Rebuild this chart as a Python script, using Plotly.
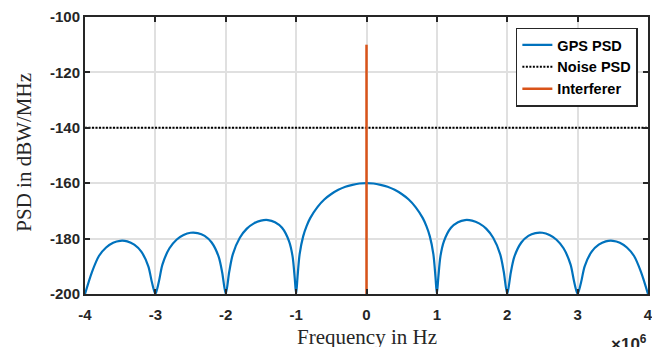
import plotly.graph_objects as go

# Frequency in units of 10^6 Hz
freq = [-4.0, -3.9, -3.8, -3.7, -3.6, -3.5, -3.4, -3.3, -3.2, -3.1, -3.05, -3.0,
        -2.95, -2.9, -2.8, -2.7, -2.6, -2.5, -2.4, -2.3, -2.2, -2.1, -2.05, -2.0,
        -1.95, -1.9, -1.8, -1.7, -1.6, -1.5, -1.4, -1.3, -1.2, -1.1, -1.05, -1.02, -1.0,
        -0.98, -0.95, -0.9, -0.85, -0.8, -0.7, -0.6, -0.5, -0.4, -0.3, -0.2, -0.1,
        0.0,
        0.1, 0.2, 0.3, 0.4, 0.5, 0.6, 0.7, 0.8, 0.85, 0.9, 0.95, 0.98,
        1.0, 1.02, 1.05, 1.1, 1.2, 1.3, 1.4, 1.5, 1.6, 1.7, 1.8, 1.9, 1.95,
        2.0, 2.05, 2.1, 2.2, 2.3, 2.4, 2.5, 2.6, 2.7, 2.8, 2.9, 2.95,
        3.0, 3.05, 3.1, 3.2, 3.3, 3.4, 3.5, 3.6, 3.7, 3.8, 3.9, 4.0]
gps_psd = [-200.0, -192.0, -186.2, -183.2, -181.5, -180.8, -181.0, -182.2, -184.7, -190.0, -195.7, -200.0,
           -195.5, -189.4, -183.5, -180.4, -178.7, -177.9, -178.0, -179.0, -181.4, -186.6, -192.3, -200.0,
           -191.9, -185.7, -179.7, -176.4, -174.5, -173.5, -173.3, -174.1, -176.1, -181.0, -186.5, -194.2, -200.0,
           -193.8, -185.6, -179.2, -175.4, -172.6, -168.7, -165.9, -163.9, -162.4, -161.3, -160.6, -160.1,
           -160.0,
           -160.1, -160.6, -161.3, -162.4, -163.9, -165.9, -168.7, -172.6, -175.4, -179.2, -185.6, -193.8,
           -200.0, -194.2, -186.5, -181.0, -176.1, -174.1, -173.3, -173.5, -174.5, -176.4, -179.7, -185.7, -191.9,
           -200.0, -192.3, -186.6, -181.4, -179.0, -178.0, -177.9, -178.7, -180.4, -183.5, -189.4, -195.5,
           -200.0, -195.7, -190.0, -184.7, -182.2, -181.0, -180.8, -181.5, -183.2, -186.2, -192.0, -200.0]

noise_freq = [-4.0, 4.0]
noise_psd = [-140.0, -140.0]

interf_freq = [0.0, 0.0]
interf_psd = [-200.0, -110.0]

x_ticks = [-4, -3, -2, -1, 0, 1, 2, 3, 4]
x_ticklabels = ["-4", "-3", "-2", "-1", "0", "1", "2", "3", "4"]
y_ticks = [-200, -180, -160, -140, -120, -100]
y_ticklabels = ["-200", "-180", "-160", "-140", "-120", "-100"]

AX = "#262626"
GRID = "#e0e0e0"
SANS = "Liberation Sans, Arial, Helvetica"
SERIF = "Liberation Serif, Times New Roman, serif"

fig = go.Figure()
fig.add_trace(go.Scatter(x=freq, y=gps_psd, mode="lines", name="GPS PSD",
                         line=dict(color="#0072BD", width=2.2, shape="spline", smoothing=0.8)))
fig.add_trace(go.Scatter(x=noise_freq, y=noise_psd, mode="lines", name="Noise PSD",
                         line=dict(color="black", width=2, dash="2px,1.5px")))
fig.add_trace(go.Scatter(x=interf_freq, y=interf_psd, mode="lines", name="Interferer",
                         line=dict(color="#D95319", width=2.5)))

tickfont = dict(family=SANS, size=15, color=AX, weight="bold")
fig.update_layout(
    width=652, height=339,
    margin=dict(l=77, r=12, t=9, b=53, autoexpand=False),
    paper_bgcolor="white", plot_bgcolor="white",
    showlegend=True,
    legend=dict(x=0.982, y=0.962, xanchor="right", yanchor="top",
                bgcolor="white", bordercolor="#262626", borderwidth=1.5,
                font=dict(family=SANS, size=14.5, color="black", weight="bold"),
                itemwidth=30, tracegroupgap=0),
    xaxis=dict(range=[-4, 4], tickvals=x_ticks, ticktext=x_ticklabels, automargin=False,
               showgrid=True, gridcolor=GRID, gridwidth=1.5, zeroline=False,
               showline=True, linecolor=AX, linewidth=2, mirror="ticks",
               ticks="inside", ticklen=5, tickwidth=2, tickcolor=AX,
               ticklabelstandoff=6, tickfont=tickfont),
    yaxis=dict(range=[-200, -100], tickvals=y_ticks, ticktext=y_ticklabels, automargin=False,
               showgrid=True, gridcolor=GRID, gridwidth=1.5, zeroline=False,
               showline=True, linecolor=AX, linewidth=2, mirror="ticks",
               ticks="inside", ticklen=5, tickwidth=2, tickcolor=AX,
               tickfont=tickfont),
)
fig.add_annotation(xref="paper", yref="paper", x=0.5009, y=-0.157, xanchor="center", yanchor="middle",
                   showarrow=False, text="Frequency in Hz",
                   font=dict(family=SERIF, size=21, color=AX))
fig.add_annotation(xref="paper", yref="paper", x=-0.108, y=0.511, xanchor="center", yanchor="middle",
                   showarrow=False, text="PSD in dBW/MHz", textangle=-90,
                   font=dict(family=SERIF, size=21, color=AX))
fig.add_annotation(xref="paper", yref="paper", x=1.002, y=-0.13, xanchor="right", yanchor="top",
                   showarrow=False, text="×10<sup>6</sup>",
                   font=dict(family=SANS, size=17, color=AX, weight="bold"))

fig.write_html("out.html")
